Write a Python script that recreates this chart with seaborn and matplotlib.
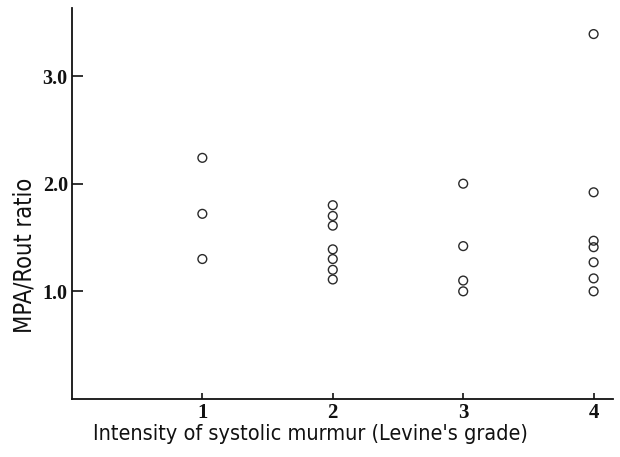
import matplotlib
matplotlib.use("Agg")
import matplotlib.pyplot as plt
import seaborn as sns
import pandas as pd

grade1 = [2.24, 1.72, 1.30]
grade2 = [1.80, 1.70, 1.61, 1.39, 1.30, 1.20, 1.11]
grade3 = [2.00, 1.42, 1.10, 1.00]
grade4 = [3.39, 1.92, 1.47, 1.41, 1.27, 1.12, 1.00]
grades = [1, 2, 3, 4]
yticks = [1.0, 2.0, 3.0]

rows = []
for g, vals in zip(grades, [grade1, grade2, grade3, grade4]):
    for v in vals:
        rows.append({"grade": g, "ratio": v})
df = pd.DataFrame(rows)

sns.set_style("ticks")
fig = plt.figure(figsize=(6.2, 4.57), dpi=100)
ax = fig.add_axes([0.116, 0.127, 0.873, 0.855])

sns.scatterplot(data=df, x="grade", y="ratio", ax=ax, marker="o", s=40,
                facecolor="none", edgecolor="#2a2a2a", linewidth=1.0, legend=False)

ax.set_xlim(0, 4.15)
ax.set_ylim(0, 3.63)
ax.set_xticks(grades)
ax.set_xticklabels([str(g) for g in grades], family="Liberation Serif", weight="bold", fontsize=15)
ax.set_yticks(yticks)
ax.set_yticklabels([f"{t:.1f}" for t in yticks], family="Liberation Serif", weight="bold", fontsize=14.5)
ax.tick_params(axis="x", direction="in", length=4.5, width=1.2, pad=3, colors="#111")
ax.tick_params(axis="y", direction="in", length=8, width=1.2, pad=3, colors="#111")
for s in ["top", "right"]:
    ax.spines[s].set_visible(False)
for s in ["left", "bottom"]:
    ax.spines[s].set_linewidth(1.3)
    ax.spines[s].set_color("#111")

ax.set_xlabel("Intensity of systolic murmur (Levine's grade)", family="DejaVu Sans",
              fontstretch="condensed", fontsize=15.5, color="#111")
ax.set_ylabel("MPA/Rout ratio", family="DejaVu Sans", fontstretch="condensed",
              fontsize=17, color="#111")
ax.xaxis.set_label_coords(0.44, -0.064)
ax.yaxis.set_label_coords(-0.065, 0.368)

fig.savefig("out.png", dpi=100, facecolor="white")
